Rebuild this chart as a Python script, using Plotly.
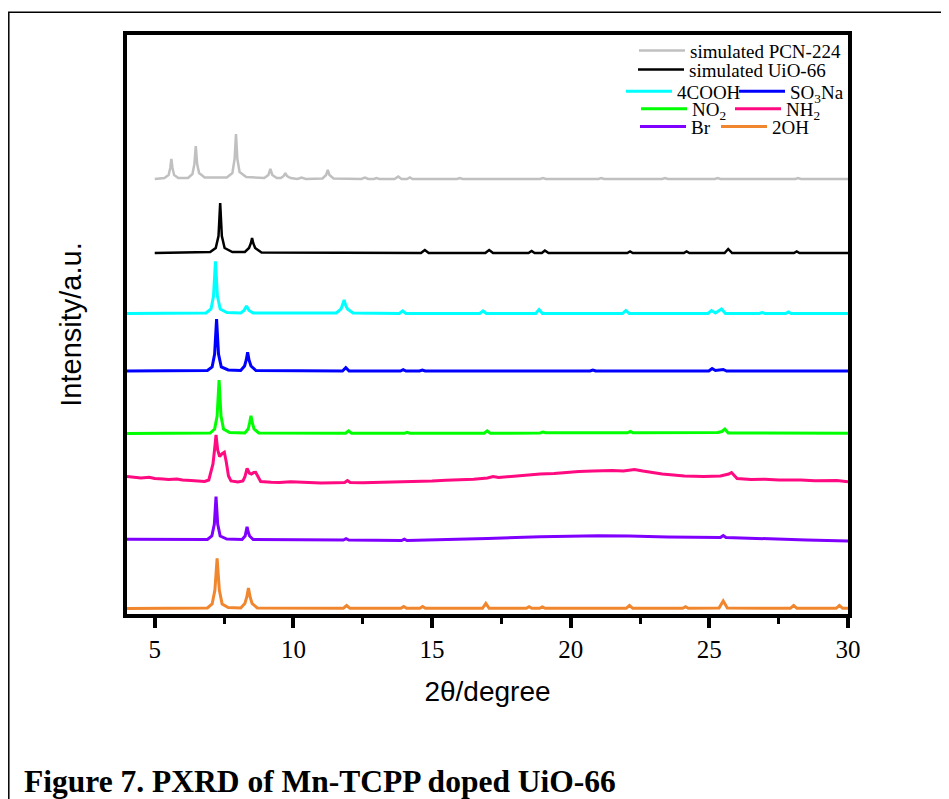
import plotly.graph_objects as go

# ---------------- data (2θ in degrees, intensity in offset a.u.) ----------------
pcn_x = [5.0, 5.35, 5.50, 5.56, 5.60, 5.64, 5.70, 5.85, 6.20, 6.36, 6.43, 6.48, 6.53, 6.60, 6.80,
         7.60, 7.80, 7.88, 7.93, 7.98, 8.06, 8.30, 8.95, 9.10, 9.17, 9.24, 9.40, 9.55, 9.65, 9.71,
         9.77, 9.90, 10.15, 10.29, 10.45, 11.05, 11.18, 11.24, 11.30, 11.45, 12.45, 12.58, 12.70,
         12.90, 13.0, 13.10, 13.65, 13.78, 13.90, 14.10, 14.20, 14.30, 15.9, 16.0, 16.1, 18.9, 19.0,
         19.1, 21.0, 21.1, 21.2, 23.3, 23.4, 23.5, 25.2, 25.3, 25.4, 28.1, 28.2, 28.3, 30.0]
pcn_y = [435, 436, 439, 446, 455, 446, 439, 436, 436, 440, 450, 468, 450, 441, 436.5,
         436.5, 441, 455, 480, 455, 442, 437, 436, 439, 445, 439, 436, 436, 438, 441,
         438, 436, 435, 436.5, 435, 435.5, 439, 444, 439, 435.5, 435, 436.5, 435,
         435, 436, 435, 435, 437.5, 435, 435, 436.5, 435, 435, 436, 435, 435, 436,
         435, 435, 436, 435, 435, 436, 435, 435, 436, 435, 435, 436, 435, 435]

uio_x = [5.0, 7.00, 7.20, 7.30, 7.36, 7.42, 7.52, 7.80, 8.25, 8.40, 8.47, 8.51, 8.55, 8.62, 8.85,
         14.6, 14.74, 14.88, 16.92, 17.06, 17.2, 18.48, 18.59, 18.7, 18.96, 19.07, 19.2,
         22.04, 22.14, 22.24, 24.08, 24.18, 24.28, 25.55, 25.68, 25.82, 28.05, 28.15, 28.25, 30.0]
uio_y = [361, 362, 366, 378, 411, 378, 366, 362, 362, 366, 371, 376, 371, 366, 361.5,
         361, 364, 361, 361, 364, 361, 361, 363, 361, 361, 363.5, 361,
         361, 362.5, 361, 361, 362.5, 361, 361, 365, 361, 361, 362.5, 361, 361]

cooh_x = [4.0, 6.85, 7.03, 7.12, 7.19, 7.26, 7.36, 7.60, 8.10, 8.22, 8.31, 8.40, 8.55,
          11.55, 11.72, 11.78, 11.83, 11.88, 11.95, 12.15, 13.82, 13.94, 14.06, 16.72, 16.84, 16.96,
          18.74, 18.86, 18.98, 21.87, 21.99, 22.11, 24.95, 25.08, 25.22, 25.44, 25.58,
          26.8, 26.9, 27.0, 27.75, 27.85, 27.95, 30.0]
cooh_y = [300.5, 301, 305, 318, 352.7, 318, 305, 301.5, 301, 303.5, 308, 303.5, 301,
          301, 305, 309, 314, 309, 305, 301, 300.5, 303, 300.5, 300.5, 303, 300.5,
          300.5, 304.5, 300.5, 300.5, 303.5, 300.5, 300.5, 303.5, 301, 305, 300.5,
          300.5, 301.5, 300.5, 300.5, 302, 300.5, 300.5]

so3na_x = [4.0, 6.90, 7.07, 7.16, 7.23, 7.30, 7.40, 7.65, 8.10, 8.24, 8.30, 8.35, 8.40, 8.47, 8.65,
           11.77, 11.89, 12.01, 13.86, 13.96, 14.06, 14.55, 14.65, 14.75, 20.7, 20.8, 20.9,
           24.98, 25.1, 25.22, 25.5, 25.62, 30.0]
so3na_y = [243, 243.5, 247, 260, 295, 260, 247, 244, 243.5, 248, 254, 261.7, 254, 248, 243.5,
           243, 246.3, 243, 243, 244.3, 243, 243, 244, 243, 243, 244, 243,
           243, 245.5, 243.5, 244.5, 243, 243]

no2_x = [4.0, 7.00, 7.16, 7.25, 7.32, 7.39, 7.48, 7.70, 8.25, 8.37, 8.42, 8.47, 8.52, 8.58, 8.75,
         11.88, 11.99, 12.10, 14.0, 14.1, 14.2, 16.88, 16.99, 17.10, 18.9, 19.0, 19.1,
         22.05, 22.15, 22.25, 25.3, 25.45, 25.56, 25.68, 30.0]
no2_y = [180.5, 181, 185, 198, 234, 198, 185, 181.5, 181, 185, 191, 198.3, 191, 185, 181,
         180.7, 183, 180.7, 180.7, 181.7, 180.7, 180.7, 183.1, 180.7, 181, 182, 181.2,
         181.2, 182.5, 181.2, 181.5, 182.5, 185, 181, 180.7]

nh2_x = [4.0, 4.3, 4.5, 4.8, 5.0, 5.3, 5.5, 5.8, 6.0, 6.3, 6.5, 6.8, 6.95, 7.10, 7.16, 7.21, 7.27,
         7.34, 7.42, 7.51, 7.58, 7.66, 7.75, 8.0, 8.18, 8.25, 8.33, 8.41, 8.49, 8.57, 8.64, 8.72,
         8.82, 9.2, 9.5, 9.9, 10.5, 11.0, 11.5, 11.85, 11.95, 12.05, 12.5, 13.0, 13.5, 14.0, 14.5,
         15.0, 15.5, 16.0, 16.5, 17.0, 17.2, 17.4, 18.0, 18.4, 18.9, 19.4, 19.8, 20.3, 20.8, 21.5,
         21.9, 22.3, 22.6, 23.3, 24.1, 24.8, 25.4, 25.7, 25.8, 26.0, 26.5, 27.0, 27.5, 28.3, 28.8,
         29.2, 29.6, 30.0]
nh2_y = [137.5, 136.5, 136, 136.8, 135.5, 135, 134.5, 135, 134, 133.5, 133, 132.5, 134, 150, 165, 179, 164,
         157.5, 160, 161.7, 152, 138, 133, 132, 133, 137, 145.7, 141, 140, 141.5, 141.7, 137,
         132.5, 131.8, 131.5, 132.2, 131.5, 131, 131.3, 131.5, 133.5, 131.5, 131.2, 131.5, 132, 132.3, 132.6,
         133, 133.8, 134, 134.7, 136, 137.5, 136.5, 138, 138.6, 140, 140.4, 141.5, 142.6, 143, 143.5,
         143, 144.5, 143, 140, 138, 137.5, 138, 140, 141.5, 135.5, 134.5, 134.8, 134, 134, 133.2,
         133, 133.4, 132.3]

br_x = [4.0, 6.9, 7.06, 7.15, 7.21, 7.27, 7.36, 7.60, 8.15, 8.26, 8.29, 8.33, 8.37, 8.42, 8.55,
        10.0, 11.8, 11.9, 12.0, 13.9, 14.0, 14.1, 16.0, 17.0, 18.9, 20.0, 21.0, 22.1, 23.5,
        25.4, 25.5, 25.6, 27.0, 28.5, 30.0]
br_y = [74.7, 74.5, 78, 90, 117.3, 90, 78, 75, 74.5, 78, 82, 87.3, 82, 78, 74.5,
        74, 74, 75.3, 74, 73.5, 74.8, 73.5, 74.5, 75.5, 77.3, 78, 78.3, 78, 77,
        76.5, 78.5, 76.5, 75, 74, 73]

oh_x = [4.0, 6.9, 7.07, 7.17, 7.25, 7.33, 7.43, 7.65, 8.10, 8.25, 8.32, 8.38, 8.44, 8.51, 8.70,
        11.80, 11.92, 12.04, 13.88, 13.98, 14.08, 14.56, 14.66, 14.76, 16.82, 16.94, 17.06,
        18.40, 18.50, 18.60, 18.88, 18.98, 19.08, 22.00, 22.12, 22.24, 24.04, 24.14, 24.24,
        25.35, 25.50, 25.65, 27.92, 28.04, 28.16, 29.57, 29.69, 29.81, 30.0]
oh_y = [5.5, 6, 10, 24, 55.7, 24, 10, 6.5, 6, 10.5, 17, 26, 17, 10.5, 6,
        5.7, 8.5, 5.7, 5.7, 7.5, 5.7, 5.7, 7.5, 5.7, 5.7, 10.5, 5.7,
        5.7, 7.3, 5.7, 5.7, 7, 5.7, 5.7, 8.5, 5.7, 5.7, 7.3, 5.7,
        6, 13, 6, 5.7, 8.5, 5.7, 5.7, 8.5, 5.7, 5.7]

x_ticks = [5, 10, 15, 20, 25, 30]

series = [
    ("simulated PCN-224", pcn_x, pcn_y, "#C0C0C0", 2.5, "legend"),
    ("simulated UiO-66", uio_x, uio_y, "#000000", 2.5, "legend2"),
    ("4COOH", cooh_x, cooh_y, "#00FFFF", 3, "legend3"),
    ("SO<sub>3</sub>Na", so3na_x, so3na_y, "#0000FF", 3, "legend4"),
    ("NO<sub>2</sub>", no2_x, no2_y, "#00FF00", 3, "legend5"),
    ("NH<sub>2</sub>", nh2_x, nh2_y, "#FF0A80", 3, "legend6"),
    ("Br", br_x, br_y, "#8000FF", 3, "legend7"),
    ("2OH", oh_x, oh_y, "#F0862E", 3, "legend8"),
]

# ---------------- layout geometry ----------------
OFF = 8                      # page body margin of the html page
W, H = 949 - OFF, 799 - OFF
ML, MT = 127 - OFF, 35 - OFF
MR = W - (848 - OFF)
MB = H - (614 - OFF)
PW = W - ML - MR
PH = H - MT - MB

ITEM_W = 46                  # legend symbol width


def px(x_page):
    return (x_page - OFF - ML) / PW


def py(y_page):
    return (H - MB - (y_page - OFF)) / PH


fig = go.Figure()
for name, xs, ys, color, width, leg in series:
    fig.add_trace(go.Scatter(x=xs, y=ys, mode="lines", name=name,
                             line=dict(color=color, width=width),
                             legend=leg, showlegend=True))

# legend positions: (text start x, row centre y) in page pixels
legend_pos = {
    "legend": (690, 51.7),
    "legend2": (689, 70.7),
    "legend3": (677, 92.3),
    "legend4": (790, 92.3),
    "legend5": (692, 110),
    "legend6": (786, 110),
    "legend7": (691, 127.7),
    "legend8": (772, 127.7),
}
leg_layout = {}
for key, (lx, ly) in legend_pos.items():
    leg_layout[key] = dict(x=px(lx - (ITEM_W + 10)), y=py(ly - 1), xanchor="left", yanchor="middle",
                           bgcolor="rgba(0,0,0,0)", borderwidth=0, itemwidth=ITEM_W,
                           font=dict(family="Liberation Serif", size=19, color="black"),
                           tracegroupgap=0)

fig.update_layout(
    width=W, height=H,
    margin=dict(l=ML, r=MR, t=MT, b=MB, pad=0),
    paper_bgcolor="white", plot_bgcolor="white",
    showlegend=True,
    **leg_layout,
    xaxis=dict(range=[4, 30], tickvals=x_ticks, ticktext=[str(v) for v in x_ticks],
               showgrid=False, zeroline=False, showline=True, linecolor="black", linewidth=3.5,
               mirror=True, ticks="outside", ticklen=10, tickwidth=3.5, tickcolor="black",
               tickfont=dict(family="Liberation Serif", size=25, color="black"),
               minor=dict(dtick=2.5, tick0=0, ticks="outside", ticklen=6, tickwidth=3, tickcolor="black"),
               title=dict(text="2θ/degree", font=dict(family="Liberation Sans", size=28, color="black"),
                          standoff=21),
               automargin=False),
    yaxis=dict(range=[0, PH], showticklabels=False, ticks="", showgrid=False, zeroline=False,
               showline=True, linecolor="black", linewidth=3.5, mirror=True,
               title=dict(text="Intensity/a.u.", font=dict(family="Liberation Sans", size=29, color="black"),
                          standoff=34),
               automargin=False),
    shapes=[dict(type="path", xref="paper", yref="paper",
                 path=f"M {px(OFF + 0.8)},{py(830)} L {px(OFF + 0.8)},{py(12.3)} L {px(970)},{py(12.3)}",
                 line=dict(color="black", width=1.5))],
    annotations=[dict(text="<b>Figure 7. PXRD of Mn-TCPP doped UiO-66</b>", xref="paper", yref="paper",
                      x=px(22), y=py(781), xanchor="left", yanchor="middle", showarrow=False,
                      font=dict(family="Liberation Serif", size=31.5, color="black"))],
)

fig.write_html("out.html")
